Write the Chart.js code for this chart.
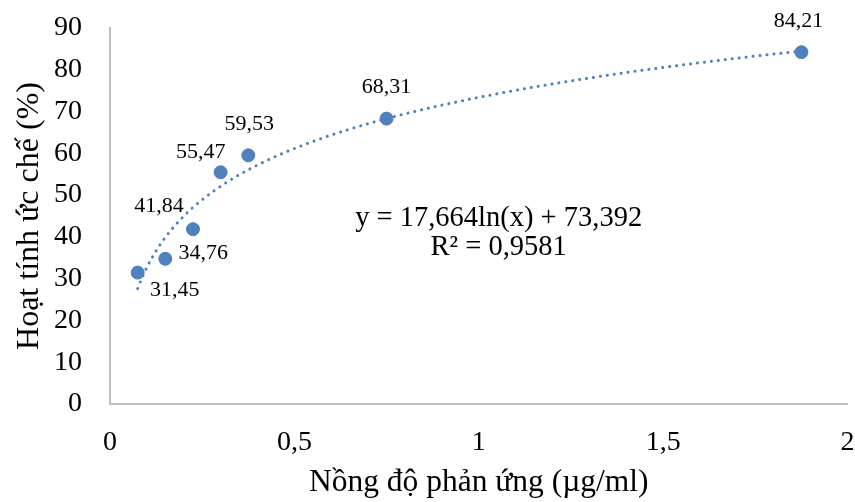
<!DOCTYPE html>
<html>
<head>
<meta charset="utf-8">
<script src="https://cdn.jsdelivr.net/npm/chart.js@4.4.1/dist/chart.umd.min.js"></script>
<style>
  html, body { margin: 0; padding: 0; background: #fff; }
  #wrap { width: 855px; height: 502px; }
</style>
</head>
<body>
<div id="wrap"><canvas id="c" width="855" height="502"></canvas></div>
<script>
// ---- data ----
const concentrations = [0.075, 0.15, 0.225, 0.3, 0.375, 0.75, 1.875];
const inhibition = [31.45, 34.76, 41.84, 55.47, 59.53, 68.31, 84.21];
const xTickLabels = ['0', '0,5', '1', '1,5', '2'];
const yTickLabels = ['0', '10', '20', '30', '40', '50', '60', '70', '80', '90'];
const trendSlope = 17.664;      // from the equation printed on the chart
const trendIntercept = 73.392;
const trendR2 = '0,9581';
const xTitle = 'Nồng độ phản ứng (µg/ml)';
const yTitle = 'Hoạt tính ức chế (%)';

// label placement (pixel offsets from each point), kept apart from values
const labelOffsets = [[37, 18], [38, -6], [-34, -23], [-20, -20], [1, -31], [0, -31], [-3, -31]];

const FONT = "'Liberation Serif', 'Times New Roman', serif";
const BLUE = '#4F81BD';

const pts = concentrations.map((x, i) => ({ x: x, y: inhibition[i] }));
// trendline evaluated from the chart's printed equation over the data range
const trend = [];
const xa = concentrations[0], xb = concentrations[concentrations.length - 1];
for (let i = 0; i <= 200; i++) {
  const x = xa + (xb - xa) * i / 200;
  trend.push({ x: x, y: trendSlope * Math.log(x) + trendIntercept });
}

const fmt = v => v.toFixed(2).replace('.', ',');

const labelPlugin = {
  id: 'pointLabels',
  afterDatasetsDraw(chart) {
    const ctx = chart.ctx;
    const meta = chart.getDatasetMeta(1);
    ctx.save();
    ctx.font = '22px ' + FONT;
    ctx.fillStyle = '#000';
    ctx.textAlign = 'center';
    ctx.textBaseline = 'middle';
    meta.data.forEach((el, i) => {
      const o = labelOffsets[i];
      ctx.fillText(fmt(inhibition[i]), el.x + o[0], el.y + o[1]);
    });
    // trendline equation
    const xs = chart.scales.x, ys = chart.scales.y;
    const cx = xs.getPixelForValue(1.054);
    const cy = ys.getPixelForValue(44.4);
    ctx.font = '28.5px ' + FONT;
    ctx.fillText('y = ' + trendSlope.toString().replace('.', ',') + 'ln(x) + ' + trendIntercept.toString().replace('.', ','), cx, cy);
    ctx.fillText('R² = ' + trendR2, cx, cy + 29);
    ctx.restore();
  }
};

function noPad(s) { s.paddingLeft = 0; s.paddingRight = 0; s.paddingTop = 0; s.paddingBottom = 0; }

new Chart(document.getElementById('c'), {
  type: 'scatter',
  data: {
    datasets: [
      {
        type: 'line',
        data: trend,
        borderColor: BLUE,
        borderWidth: 3,
        borderDash: [0.1, 6.9],
        borderCapStyle: 'round',
        pointRadius: 0,
        fill: false,
        tension: 0,
        order: 2
      },
      {
        data: pts,
        backgroundColor: BLUE,
        borderColor: BLUE,
        pointRadius: 6.5,
        pointHoverRadius: 6.5,
        order: 1
      }
    ]
  },
  options: {
    responsive: false,
    animation: false,
    devicePixelRatio: 1,
    layout: { padding: { left: 0, right: 7, top: 28, bottom: 0 } },
    plugins: { legend: { display: false }, tooltip: { enabled: false } },
    scales: {
      x: {
        type: 'linear',
        min: 0, max: 2,
        afterFit(s) { s.height = 98; noPad(s); },
        grid: { display: false, drawTicks: false },
        border: { display: true, color: '#BFBFBF', width: 2 },
        ticks: {
          stepSize: 0.5,
          padding: 22,
          color: '#000',
          font: { family: FONT, size: 28 },
          callback: (v) => xTickLabels[Math.round(v / 0.5)]
        },
        title: {
          display: true, text: xTitle, color: '#000',
          font: { family: FONT, size: 31.5, lineHeight: 1.2 },
          padding: { top: 0, bottom: 0 }
        }
      },
      y: {
        min: 0, max: 90,
        afterFit(s) { s.width = 110; noPad(s); },
        grid: { display: false, drawTicks: false },
        border: { display: true, color: '#BFBFBF', width: 2 },
        ticks: {
          stepSize: 10,
          padding: 28,
          color: '#000',
          font: { family: FONT, size: 28 },
          callback: (v) => yTickLabels[Math.round(v / 10)]
        },
        title: {
          display: true, text: yTitle, color: '#000',
          font: { family: FONT, size: 32, lineHeight: 1.2 },
          padding: { top: 10, bottom: 0 }
        }
      }
    }
  },
  plugins: [labelPlugin]
});
</script>
</body>
</html>
